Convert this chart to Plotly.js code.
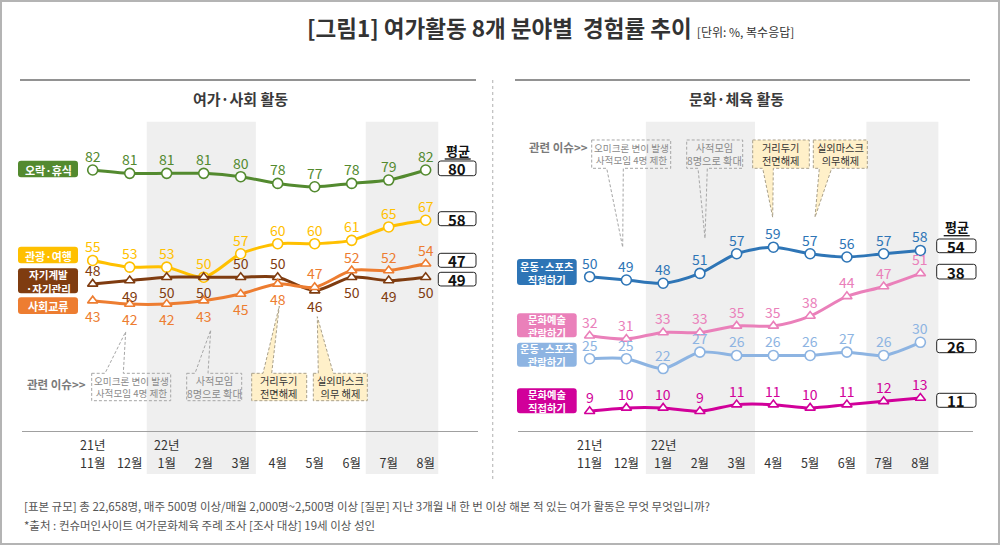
<!DOCTYPE html>
<html>
<head>
<meta charset="utf-8">
<script src="https://cdn.plot.ly/plotly-3.0.1.min.js"></script>
<style>
  html, body { margin: 0; padding: 0; background: #ffffff; }
  #chart { width: 1000px; height: 545px; }
</style>
</head>
<body>
<div id="chart"></div>
<script>
// ---------------- DATA ----------------
const months = ['11월', '12월', '1월', '2월', '3월', '4월', '5월', '6월', '7월', '8월'];
const yearMarks = ['21년', '', '22년', '', '', '', '', '', '', ''];

// 여가·사회 활동
const leisureRest = [82, 81, 81, 81, 80, 78, 77, 78, 79, 82];     // 오락·휴식
const tourTravel  = [55, 53, 53, 50, 57, 60, 60, 61, 65, 67];     // 관광·여행
const selfDev     = [48, 49, 50, 50, 50, 50, 46, 50, 49, 50];     // 자기계발·자기관리
const socialExch  = [43, 42, 42, 43, 45, 48, 47, 52, 52, 54];     // 사회교류
const leftNames   = ['오락·휴식', '관광·여행', '자기계발<br>·자기관리', '사회교류'];
const leftAvg     = [80, 58, 47, 49];

// 문화·체육 활동
const sportsDo     = [50, 49, 48, 51, 57, 59, 57, 56, 57, 58];    // 운동·스포츠 직접하기
const cultureWatch = [32, 31, 33, 33, 35, 35, 38, 44, 47, 51];    // 문화예술 관람하기
const sportsWatch  = [25, 25, 22, 27, 26, 26, 26, 27, 26, 30];    // 운동·스포츠 관람하기
const cultureDo    = [9, 10, 10, 9, 11, 11, 10, 11, 12, 13];      // 문화예술 직접하기
const rightNames   = ['운동·스포츠<br>직접하기', '문화예술<br>관람하기', '운동·스포츠<br>관람하기', '문화예술<br>직접하기'];
const rightAvg     = [54, 38, 26, 11];

const issueTexts = ['오미크론 변이 발생<br>사적모임 4명 제한', '사적모임<br>8명으로 확대', '거리두기<br>전면해제', '실외마스크<br>의무 해제'];
const issueTextsR = ['오미크론 변이 발생<br>사적모임 4명 제한', '사적모임<br>8명으로 확대', '거리두기<br>전면해제', '실외마스크<br>의무해제'];

// ---------------- STYLE ----------------
const FONT = '"Noto Sans CJK KR", "Noto Sans", sans-serif';
const W = 1000, H = 545;
const X = v => +(v / W).toFixed(5);
const Y = v => +(1 - v / H).toFixed(5);

const leftSeries = [
  {y: leisureRest, color: '#538a2f', sym: 'circle', pos: 'aaaaaaaaaa'},
  {y: tourTravel,  color: '#ffc000', sym: 'circle', pos: 'aaaaaaaaaa'},
  {y: selfDev,     color: '#7f3c10', sym: 'triangle-up', pos: 'abbbaabbbb'},
  {y: socialExch,  color: '#ed7d31', sym: 'triangle-up', pos: 'bbbbbbaaaa'}
];
const rightSeries = [
  {y: sportsDo,     color: '#2e75b6', sym: 'circle', pos: 'aaaaaaaaaa'},
  {y: cultureWatch, color: '#ea80ba', sym: 'triangle-up', pos: 'aaaaaaaaaa'},
  {y: sportsWatch,  color: '#8db4e2', sym: 'circle', pos: 'aaaaaaaaaa'},
  {y: cultureDo,    color: '#d1009a', sym: 'triangle-up', pos: 'aaaaaaaaaa'}
];
const idx = months.map((m, i) => i);

const traces = [];
const annotations = [];
const shapes = [];

function addPanel(series, xa, ya) {
  series.forEach(s => {
    traces.push({
      type: 'scatter', mode: 'lines+markers', x: idx, y: s.y,
      xaxis: xa, yaxis: ya,
      line: {color: s.color, width: 3, shape: 'spline', smoothing: 0.8},
      marker: {symbol: s.sym, size: s.sym === 'circle' ? 10 : 9, color: '#ffffff', line: {color: s.color, width: 1.6}},
      hoverinfo: 'skip', showlegend: false, cliponaxis: false
    });
    s.y.forEach((v, i) => {
      const above = s.pos[i] === 'a';
      annotations.push({
        xref: xa, yref: ya, x: i, y: v, text: String(v), showarrow: false,
        yshift: above ? 14 : -15, xanchor: 'center', yanchor: 'middle',
        font: {family: FONT, size: 14, color: s.color}
      });
    });
  });
  // year labels above month tick labels
  yearMarks.forEach((t, i) => {
    if (!t) return;
    annotations.push({xref: xa, yref: 'paper', x: i, y: Y(445), text: t, showarrow: false, borderpad: 0,
      xanchor: 'center', yanchor: 'middle', font: {family: FONT, size: 12.5, color: '#333'}});
  });
}
addPanel(leftSeries, 'x', 'y');
addPanel(rightSeries, 'x2', 'y2');

// rounded rectangle path in pixel space -> paper
function rrect(x0, y0, x1, y1, r) {
  return `M ${X(x0 + r)} ${Y(y0)} L ${X(x1 - r)} ${Y(y0)} Q ${X(x1)} ${Y(y0)} ${X(x1)} ${Y(y0 + r)} ` +
         `L ${X(x1)} ${Y(y1 - r)} Q ${X(x1)} ${Y(y1)} ${X(x1 - r)} ${Y(y1)} ` +
         `L ${X(x0 + r)} ${Y(y1)} Q ${X(x0)} ${Y(y1)} ${X(x0)} ${Y(y1 - r)} ` +
         `L ${X(x0)} ${Y(y0 + r)} Q ${X(x0)} ${Y(y0)} ${X(x0 + r)} ${Y(y0)} Z`;
}
function poly(pts) {
  return 'M ' + pts.map(p => `${X(p[0])} ${Y(p[1])}`).join(' L ') + ' Z';
}

// shaded month bands (data x, paper y)
[[ 'x', 1.46, 4.41 ], [ 'x', 7.38, 9.34 ], [ 'x2', 1.53, 4.5 ], [ 'x2', 7.53, 9.49 ]].forEach(b => {
  shapes.push({type: 'rect', xref: b[0], yref: 'paper', x0: b[1], x1: b[2], y0: Y(474), y1: Y(121.7),
    fillcolor: '#efefef', line: {width: 0}, layer: 'below'});
});

// frame
shapes.push({type: 'rect', xref: 'paper', yref: 'paper', x0: X(1), x1: X(999), y0: Y(1), y1: Y(544),
  line: {color: '#b4b4b4', width: 2}, fillcolor: 'rgba(0,0,0,0)'});
// top rules
shapes.push({type: 'line', xref: 'paper', yref: 'paper', x0: X(20), x1: X(476), y0: Y(80), y1: Y(80), line: {color: '#6e6e6e', width: 1.5}});
shapes.push({type: 'line', xref: 'paper', yref: 'paper', x0: X(515), x1: X(970), y0: Y(80), y1: Y(80), line: {color: '#6e6e6e', width: 1.5}});
// dotted divider
shapes.push({type: 'line', xref: 'paper', yref: 'paper', x0: X(492.7), x1: X(492.7), y0: Y(80), y1: Y(482), line: {color: '#bdbdbd', width: 1.2, dash: 'dot'}});

// legend label boxes
const leftBoxes = [[160.7, 177.3], [246.7, 263.3], [268.3, 293.3], [297.3, 314]];
leftNames.forEach((n, i) => {
  const b = leftBoxes[i];
  const two = n.indexOf('<br>') >= 0;
  shapes.push({type: 'path', xref: 'paper', yref: 'paper', path: rrect(18, b[0], 78, b[1], 3), fillcolor: leftSeries[i].color, line: {width: 0}});
  annotations.push({xref: 'paper', yref: 'paper', x: X(48), y: Y((b[0] + b[1]) / 2 + 0.5), text: '<b>' + n + '</b>', showarrow: false,
    xanchor: 'center', yanchor: 'middle', font: {family: FONT, size: two ? 10.5 : 11, color: '#ffffff'}});
});
const rightBoxes = [[259, 285], [313.3, 337.3], [342.7, 366.7], [388.3, 413.3]];
rightNames.forEach((n, i) => {
  const b = rightBoxes[i];
  shapes.push({type: 'path', xref: 'paper', yref: 'paper', path: rrect(517, b[0], 576.7, b[1], 3), fillcolor: rightSeries[i].color, line: {width: 0}});
  annotations.push({xref: 'paper', yref: 'paper', x: X(546.8), y: Y((b[0] + b[1]) / 2 + 0.5), text: '<b>' + n + '</b>', showarrow: false,
    xanchor: 'center', yanchor: 'middle', font: {family: FONT, size: 10.3, color: '#ffffff'}});
});

// average boxes
function avgBoxes(vals, x0, x1, ys, hx, hy) {
  annotations.push({xref: 'paper', yref: 'paper', x: X(hx), y: Y(hy), text: '<b>평균</b>', showarrow: false,
    xanchor: 'center', yanchor: 'middle', font: {family: FONT, size: 13, color: '#111'}});
  shapes.push({type: 'line', xref: 'paper', yref: 'paper', x0: X(hx - 13), x1: X(hx + 13), y0: Y(hy + 9), y1: Y(hy + 9), line: {color: '#111', width: 1.3}});
  vals.forEach((v, i) => {
    const b = ys[i];
    shapes.push({type: 'path', xref: 'paper', yref: 'paper', path: rrect(x0, b[0], x1, b[1], 2.5), fillcolor: '#ffffff', line: {color: '#222', width: 1}});
    annotations.push({xref: 'paper', yref: 'paper', x: X((x0 + x1) / 2), y: Y((b[0] + b[1]) / 2 + 0.5), text: '<b>' + v + '</b>', showarrow: false,
      xanchor: 'center', yanchor: 'middle', font: {family: FONT, size: 15, color: '#111'}});
  });
}
avgBoxes(leftAvg, 438.3, 476, [[161, 175.7], [211.7, 225.7], [253.3, 267.3], [272.3, 286]], 457.7, 150);
avgBoxes(rightAvg, 936.7, 976, [[239, 252.7], [264.3, 279], [339.3, 352.7], [393.3, 407.3]], 956.7, 226.7);

// issue callouts
const GREY_B = '#a6a6a6', YEL_F = '#fff0c9', YEL_B = '#a9a08a';
function bubbleText(x0, y0, x1, y1, yellow, text) {
  const size = text.length > 20 ? 9.6 : 10.2;
  annotations.push({xref: 'paper', yref: 'paper', x: X((x0 + x1) / 2), y: Y((y0 + y1) / 2), text: text, showarrow: false,
    xanchor: 'center', yanchor: 'middle', font: {family: FONT, size: size, color: yellow ? '#333' : '#8a8a8a'}});
}
function bubbleUp(x0, y0, x1, y1, b1, b2, tip, yellow, text) {
  shapes.push({type: 'path', xref: 'paper', yref: 'paper',
    path: poly([[x0, y0], [b1, y0], tip, [b2, y0], [x1, y0], [x1, y1], [x0, y1]]),
    fillcolor: yellow ? YEL_F : 'rgba(255,255,255,0)', line: {color: yellow ? YEL_B : GREY_B, width: 1, dash: '3px,2px'}});
  bubbleText(x0, y0, x1, y1, yellow, text);
}
function bubbleDown(x0, y0, x1, y1, b1, b2, tip, yellow, text) {
  shapes.push({type: 'path', xref: 'paper', yref: 'paper',
    path: poly([[x0, y0], [x1, y0], [x1, y1], [b2, y1], tip, [b1, y1], [x0, y1]]),
    fillcolor: yellow ? YEL_F : 'rgba(255,255,255,0)', line: {color: yellow ? YEL_B : GREY_B, width: 1, dash: '3px,2px'}});
  bubbleText(x0, y0, x1, y1, yellow, text);
}
bubbleUp(91.7, 373.3, 170.7, 400.7, 105, 123.3, [125.7, 331.7], false, issueTexts[0]);
bubbleUp(186.7, 373.3, 241.7, 400.7, 195, 208, [210.7, 330], false, issueTexts[1]);
bubbleUp(251.7, 373.3, 306.7, 400.7, 263, 271.7, [279.3, 306], true, issueTexts[2]);
bubbleUp(313.3, 373.3, 367.3, 400.7, 318.3, 333.3, [317.3, 316.7], true, issueTexts[3]);

bubbleDown(591.7, 140, 670.7, 168.3, 606.7, 623.3, [622.7, 247.3], false, issueTextsR[0]);
bubbleDown(686.7, 140, 742.7, 168.3, 698, 707.3, [705, 238.3], false, issueTextsR[1]);
bubbleDown(752.7, 140, 809.3, 168.3, 762.7, 773.3, [772.7, 217.3], true, issueTextsR[2]);
bubbleDown(813.3, 140, 867.3, 168.3, 819.3, 831.7, [815, 217.3], true, issueTextsR[3]);

annotations.push({xref: 'paper', yref: 'paper', x: X(25), y: Y(383.5), text: '<b>관련 이슈>></b>', showarrow: false,
  xanchor: 'left', yanchor: 'middle', font: {family: FONT, size: 11.5, color: '#7a7a7a'}});
annotations.push({xref: 'paper', yref: 'paper', x: X(526.7), y: Y(146.7), text: '<b>관련 이슈>></b>', showarrow: false,
  xanchor: 'left', yanchor: 'middle', font: {family: FONT, size: 11.5, color: '#7a7a7a'}});

// panel subtitles
annotations.push({xref: 'paper', yref: 'paper', x: X(240), y: Y(99), text: '<b>여가·사회 활동</b>', showarrow: false,
  xanchor: 'center', yanchor: 'middle', font: {family: FONT, size: 15, color: '#3a3a3a'}});
annotations.push({xref: 'paper', yref: 'paper', x: X(736.5), y: Y(98.5), text: '<b>문화·체육 활동</b>', showarrow: false,
  xanchor: 'center', yanchor: 'middle', font: {family: FONT, size: 15, color: '#3a3a3a'}});

// footnotes
annotations.push({xref: 'paper', yref: 'paper', x: X(22), y: Y(506), showarrow: false, xanchor: 'left', yanchor: 'middle',
  text: '[표본 규모] 총 22,658명, 매주 500명 이상/매월 2,000명~2,500명 이상 [질문] 지난 3개월 내 한 번 이상 해본 적 있는 여가 활동은 무엇 무엇입니까?',
  font: {family: FONT, size: 11.5, color: '#555'}});
annotations.push({xref: 'paper', yref: 'paper', x: X(22), y: Y(525.5), showarrow: false, xanchor: 'left', yanchor: 'middle',
  text: '*출처 : 컨슈머인사이트 여가문화체육 주례 조사 [조사 대상] 19세 이상 성인',
  font: {family: FONT, size: 11.5, color: '#555'}});

const yDomain = [Y(431), Y(120)];
const axisCommon = {
  tickmode: 'array', tickvals: idx, ticktext: months, showgrid: false, zeroline: false,
  showline: true, linecolor: '#a0a0a0', linewidth: 1, ticks: '', ticklabelstandoff: 21,
  tickfont: {family: FONT, size: 12.5, color: '#333'}, fixedrange: true
};

const layout = {
  width: W, height: H, margin: {l: 0, r: 0, t: 0, b: 0},
  paper_bgcolor: '#ffffff', plot_bgcolor: 'rgba(0,0,0,0)',
  showlegend: false, hovermode: false,
  title: {
    text: '[그림1] 여가활동 8개 분야별  경험률 추이 <span style="font-size:12px;font-weight:normal">[단위: %, 복수응답]</span>',
    x: X(307), xanchor: 'left', xref: 'paper', y: Y(29), yanchor: 'middle', yref: 'paper',
    font: {family: FONT, size: 22.5, color: '#333', weight: 'bold'}
  },
  xaxis: Object.assign({}, axisCommon, {domain: [X(22), X(478)], range: [-1.911, 10.414], anchor: 'y'}),
  yaxis: {domain: yDomain, range: [4.09, 96.93], visible: false, fixedrange: true, anchor: 'x'},
  xaxis2: Object.assign({}, axisCommon, {domain: [X(517.5), X(972.5)], range: [-1.963, 10.418], anchor: 'y2'}),
  yaxis2: {domain: yDomain, range: [2.96, 97.77], visible: false, fixedrange: true, anchor: 'x2'},
  shapes: shapes,
  annotations: annotations
};

Plotly.newPlot('chart', traces, layout, {displayModeBar: false, staticPlot: true});
</script>
</body>
</html>
